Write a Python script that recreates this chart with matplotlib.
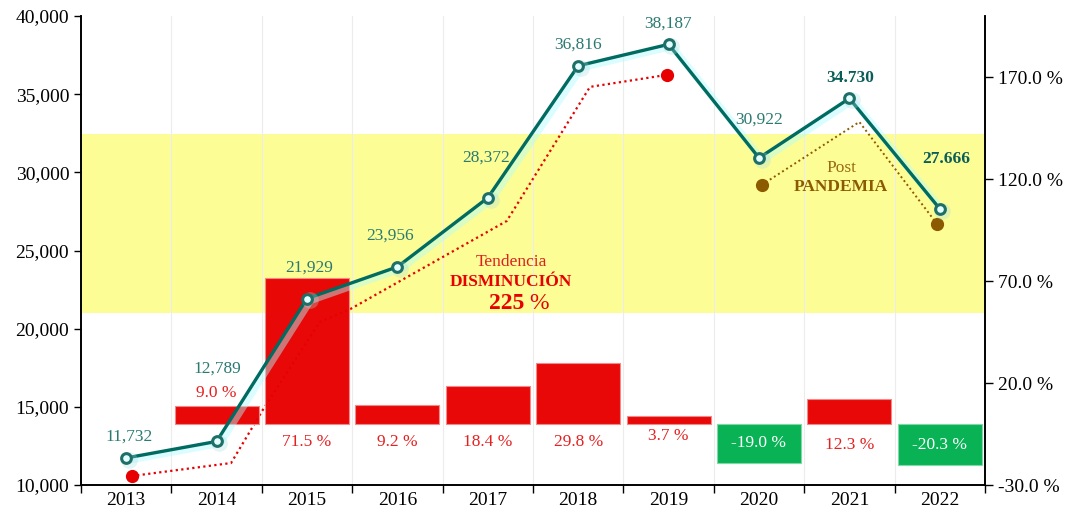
import matplotlib
matplotlib.use("Agg")
import matplotlib.pyplot as plt
import matplotlib.patheffects as pe
from matplotlib.ticker import FuncFormatter, FixedLocator
import numpy as np

plt.rcParams['font.family'] = ['Liberation Serif', 'DejaVu Serif']

# datos
anios = ['2013', '2014', '2015', '2016', '2017', '2018', '2019', '2020', '2021', '2022']
casos = [11732, 12789, 21929, 23956, 28372, 36816, 38187, 30922, 34730, 27666]
etiquetas_casos = ['11,732', '12,789', '21,929', '23,956', '28,372', '36,816', '38,187',
                   '30,922', '34.730', '27.666']
# variacion anual (2013 sin dato)
anios_var = [1, 2, 3, 4, 5, 6, 7, 8, 9]
variacion = [9.0, 71.5, 9.2, 18.4, 29.8, 3.7, -19.0, 12.3, -20.3]

# tendencia (linea punteada)
tend_x = [0.06, 1.16, 1.51, 2.14, 2.48, 4.21, 5.13, 5.98]
tend_y = [10576, 11408, 14798, 20428, 21260, 26890, 35465, 36233]
post_x = [7.03, 8.11, 8.97]
post_y = [29195, 33225, 26698]

franja = (21000, 32450)

TEAL = '#006b61'
TEAL_TXT = '#2b7a72'
ROJO = '#e80000'
VERDE = '#00b04f'
CAFE = '#8c5a00'

fig = plt.figure(figsize=(10.66, 5.16), dpi=100)
ax = fig.add_axes([0.076, 0.060, 0.848, 0.909])
ax2 = ax.twinx()

x = np.arange(len(anios))

ax.set_xlim(-0.5, 9.5)
ax.set_ylim(10000, 40000)
ax2.set_ylim(-30, 200)

# franja amarilla y lineas verticales
ax.axhspan(franja[0], franja[1], color='#fdfd96', zorder=0, lw=0)
for b in np.arange(0.5, 9.5, 1):
    ax.axvline(b, color='#ececec', lw=0.8, zorder=0.5)

# tendencias punteadas
ax.plot(tend_x, tend_y, ls=(0, (1, 1.5)), color=ROJO, lw=1.6, zorder=1)
ax.plot([tend_x[0], tend_x[-1]], [tend_y[0], tend_y[-1]], 'o', color=ROJO, ms=8.5, zorder=1)
ax.plot(post_x, post_y, ls=(0, (1, 1.5)), color=CAFE, lw=1.4, zorder=1)
ax.plot([post_x[0], post_x[-1]], [post_y[0], post_y[-1]], 'o', color=CAFE, ms=8.5, zorder=1)

# barras de variacion
colores = [ROJO if v >= 0 else VERDE for v in variacion]
bordes = ['#f28a8a' if v >= 0 else '#7fd8a6' for v in variacion]
ax2.bar(anios_var, variacion, width=0.93, color=colores, edgecolor=bordes,
        linewidth=0.8, alpha=0.97, zorder=2)
for i, v in zip(anios_var, variacion):
    if v < 0:
        ax2.text(i, v / 2, f'{v:.1f} %', color='white', ha='center', va='center',
                 fontsize=12.5, zorder=5)
    elif i == 1:
        ax2.annotate(f'{v:.1f} %', (i, v), xytext=(0, 13), textcoords='offset pixels',
                     color='#e52020', ha='center', va='center', fontsize=12.5, zorder=5)
    else:
        dy = {6: -12, 8: -21}.get(i, -18)
        ax2.annotate(f'{v:.1f} %', (i, 0), xytext=(0, dy), textcoords='offset pixels',
                     color='#e52020', ha='center', va='center', fontsize=12.5, zorder=5)

# linea principal con brillo
sombra = [pe.SimpleLineShadow(offset=(2.5, -1.5), shadow_color='#b0fcff', alpha=0.45, linewidth=5),
          pe.Normal()]
ax2.plot(x, casos, color=TEAL, lw=2.4, transform=ax.transData, zorder=3, path_effects=sombra)
ax2.plot(x + 0.03, np.array(casos) - 120, 'o', color='#a8dede', ms=12, alpha=0.3,
         mew=0, transform=ax.transData, zorder=3)
ax2.plot(x, casos, 'o', ms=7, mfc='#e4ffff', mec='#1d6f67', mew=2.2,
         transform=ax.transData, zorder=4)

offs = [(3, 21), (1, 73), (2, 31), (-7, 31), (-2, 40), (0, 21), (-1, 21), (0, 38), (1, 20), (6, 50)]
for i, (c, et) in enumerate(zip(casos, etiquetas_casos)):
    negrita = i >= 8
    ax2.annotate(et, (i, c), xycoords=ax.transData, xytext=offs[i], textcoords='offset pixels',
                 ha='center', va='center', fontsize=12.5,
                 color='#0b5e58' if negrita else TEAL_TXT,
                 fontweight='bold' if negrita else 'normal', zorder=6)

# textos
ax.text(4.26, 24270, 'Tendencia', color='#e02020', ha='center', va='center', fontsize=12.5, zorder=6)
ax.text(4.26, 22990, 'DISMINUCIÓN', color=ROJO, ha='center', va='center', fontsize=12.5,
        fontweight='bold', zorder=6)
ax.text(4.40, 21580, '225', color=ROJO, ha='right', va='center', fontsize=17,
        fontweight='bold', zorder=6)
ax.text(4.46, 21580, '%', color=ROJO, ha='left', va='center', fontsize=17, zorder=6)
ax.text(7.91, 30290, 'Post', color='#9a6a12', ha='center', va='center', fontsize=12.5, zorder=6)
ax.text(7.91, 29070, 'PANDEMIA', color=CAFE, ha='center', va='center', fontsize=12.5,
        fontweight='bold', zorder=6)

# ejes
ax.xaxis.set_major_locator(FixedLocator(np.arange(-0.5, 10, 1)))
ax.set_xticklabels([], minor=False)
ax.set_xticks(x, anios, minor=True)
ax.tick_params(axis='x', which='major', length=6, width=1, direction='out')
ax.tick_params(axis='x', which='minor', length=0, labelsize=14, pad=5)
ax.yaxis.set_major_locator(FixedLocator([10000, 15000, 20000, 25000, 30000, 35000, 40000]))
ax.yaxis.set_major_formatter(FuncFormatter(lambda v, p: f'{int(v):,}'))
ax.tick_params(axis='y', labelsize=14, length=5, width=1)
ax2.yaxis.set_major_locator(FixedLocator([-30, 20, 70, 120, 170]))
ax2.yaxis.set_major_formatter(FuncFormatter(lambda v, p: f'{v:.1f} %'))
ax2.tick_params(axis='y', labelsize=14, length=6, width=1)

for a in (ax, ax2):
    a.spines['top'].set_visible(False)
    a.spines['left'].set_linewidth(1.2)
    a.spines['right'].set_linewidth(1.2)
    a.spines['bottom'].set_linewidth(1.2)

fig.savefig('out.png', dpi=100)
